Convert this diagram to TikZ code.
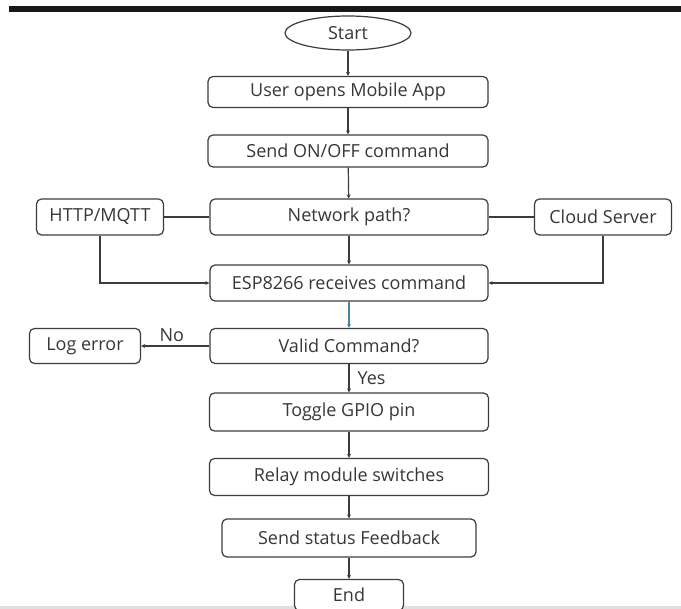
\documentclass[tikz,border=0pt]{standalone}
\usepackage{fontspec}
\setmainfont{Open Sans}
\usetikzlibrary{arrows.meta,shapes.geometric}
\definecolor{ln}{RGB}{60,60,60}
\definecolor{tx}{RGB}{55,55,55}
\definecolor{bl}{RGB}{70,130,170}
\tikzset{
  box/.style={draw=ln,line width=1.2pt,rounded corners=5pt,fill=white,text=tx,font=\fontsize{18}{20}\selectfont,inner sep=0pt},
  conn/.style={draw=ln,line width=1.2pt,-{Stealth[length=4pt,width=4pt]}},
  plain/.style={draw=ln,line width=1.2pt},
  lbl/.style={text=tx,font=\fontsize{18}{20}\selectfont,inner sep=0pt}
}
\begin{document}
\begin{tikzpicture}[x=1pt,y=-1pt]
\useasboundingbox (0,0) rectangle (681,609);
\clip (0,0) rectangle (681,609);
\fill[white] (0,0) rectangle (681,609);
\fill[black!90] (9,6) rectangle (681,12);
\fill[black!12] (0,606) rectangle (681,609);

\node[box,ellipse,rounded corners=0pt,minimum width=126,minimum height=34] (start) at (348,33) {Start};
\node[box,minimum width=280,minimum height=31] (open) at (348,92) {User opens Mobile App};
\node[box,minimum width=280,minimum height=32] (send) at (348,151) {Send ON/OFF command};
\node[box,minimum width=278,minimum height=36] (net) at (349,217) {Network path?};
\node[box,minimum width=127,minimum height=36] (http) at (100,217) {HTTP/MQTT};
\node[box,minimum width=137,minimum height=36] (cloud) at (603,217) {Cloud Server};
\node[box,minimum width=278,minimum height=36] (esp) at (349,283) {ESP8266 receives command};
\node[box,minimum width=278,minimum height=35] (valid) at (349,346) {Valid Command?};
\node[box,minimum width=111,minimum height=35] (log) at (85,346) {Log error};
\node[box,minimum width=279,minimum height=38] (toggle) at (349,412) {Toggle GPIO pin};
\node[box,minimum width=279,minimum height=37] (relay) at (349,477) {Relay module switches};
\node[box,minimum width=254,minimum height=38] (fb) at (349,538) {Send status Feedback};
\node[box,minimum width=109,minimum height=31] (end) at (349,595) {End};

\draw[conn] (start) -- (open);
\draw[conn] (open) -- (send);
\draw[conn] (send) -- (net);
\draw[conn] (net) -- (esp);
\draw[conn,draw=bl] (esp) -- (valid);
\draw[conn] (valid) -- node[lbl,right=8pt,pos=0.5] {Yes} (toggle);
\draw[conn] (toggle) -- (relay);
\draw[conn] (relay) -- (fb);
\draw[conn] (fb) -- (end);
\draw[plain] (http) -- (net);
\draw[plain] (net) -- (cloud);
\draw[conn] (http.south) |- (esp.west);
\draw[conn] (cloud.south) |- (esp.east);
\draw[conn] (valid) -- node[lbl,above=4pt,pos=0.55] {No} (log);
\end{tikzpicture}
\end{document}
